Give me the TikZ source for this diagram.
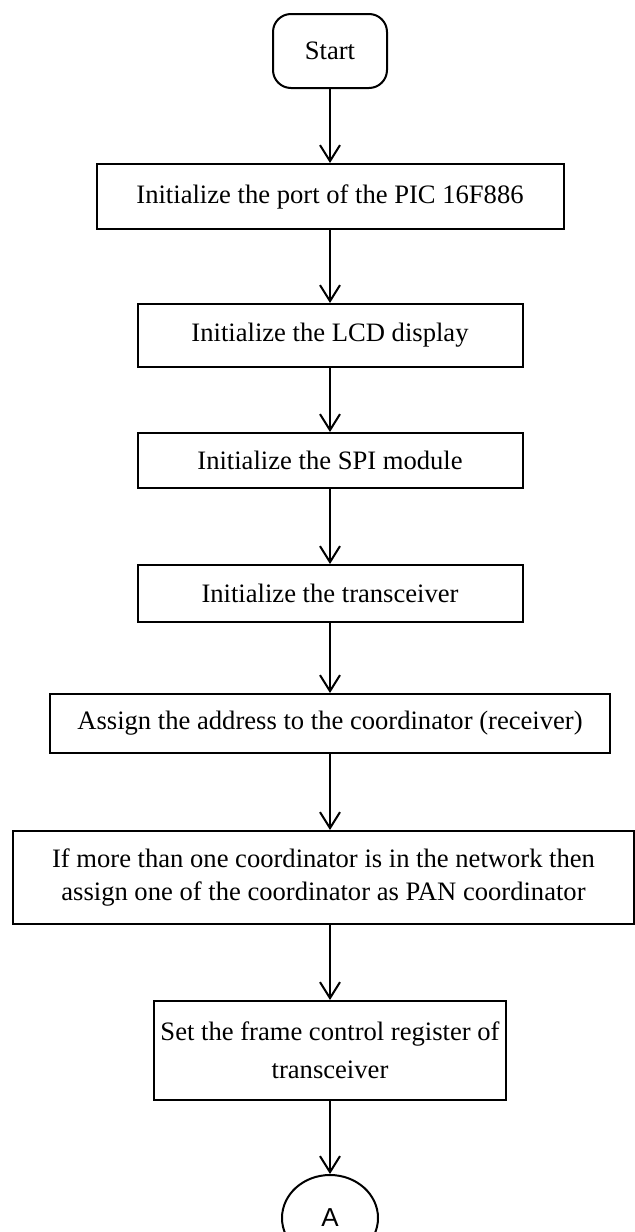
\documentclass[tikz,border=0pt]{standalone}
\usepackage{fontspec}
\setmainfont{Liberation Serif}
\newfontfamily\connfont{Liberation Sans}
\usetikzlibrary{shapes, positioning, arrows.meta}

\begin{document}
\begin{tikzpicture}[
    terminal/.style={rectangle, draw=black, rounded corners=9pt, fill=none,
        text centered, text=black, minimum width=57pt, minimum height=37pt},
    process/.style={rectangle, draw=black, fill=none, align=center,
        text centered, text=black, inner xsep=3pt},
    connector/.style={ellipse, draw=black, fill=none, text centered, text=black,
        minimum width=48pt, minimum height=43pt, font=\connfont\fontsize{13}{15}\selectfont},
    flow/.style={-{Straight Barb[length=8pt, width=10pt]}},
    line width=1pt, font=\fontsize{13.3}{16.5}\selectfont
]
\useasboundingbox (0,0) rectangle (317.5pt,-616pt);
\node (S00) [terminal] at (165pt,-25.5pt) {Start};
\node (P01) [process, minimum width=233.5pt, minimum height=32.5pt, below=37pt of S00]
    {Initialize the port of the PIC 16F886};
\node (P02) [process, minimum width=192.5pt, minimum height=31.5pt, below=36.5pt of P01]
    {Initialize the LCD display};
\node (P03) [process, minimum width=192.5pt, minimum height=27.5pt, below=32pt of P02]
    {Initialize the SPI module};
\node (P04) [process, minimum width=192.5pt, minimum height=28.5pt, below=37.5pt of P03]
    {Initialize the transceiver};
\node (P05) [process, minimum width=280pt, minimum height=29.5pt, below=35pt of P04]
    {Assign the address to the coordinator (receiver)};
\node (P06) [process, minimum width=310.5pt, minimum height=46.5pt, below=38pt of P05, xshift=-3.25pt]
    {If more than one coordinator is in the network then\\assign one of the coordinator as PAN coordinator};
\node (P07) [process, minimum width=138.5pt, minimum height=49.5pt, below=37.5pt of P06, xshift=3.25pt,
    font=\fontsize{13.3}{19}\selectfont]
    {Set the frame control register of\\transceiver};
\node (A00) [connector, below=36.5pt of P07] {A};

% connectors
\draw [flow] (S00) -- (P01);
\draw [flow] (P01) -- (P02);
\draw [flow] (P02) -- (P03);
\draw [flow] (P03) -- (P04);
\draw [flow] (P04) -- (P05);
\draw [flow] (P05) -- (P05 |- P06.north);
\draw [flow] (P07 |- P06.south) -- (P07);
\draw [flow] (P07) -- (A00);
\end{tikzpicture}
\end{document}
